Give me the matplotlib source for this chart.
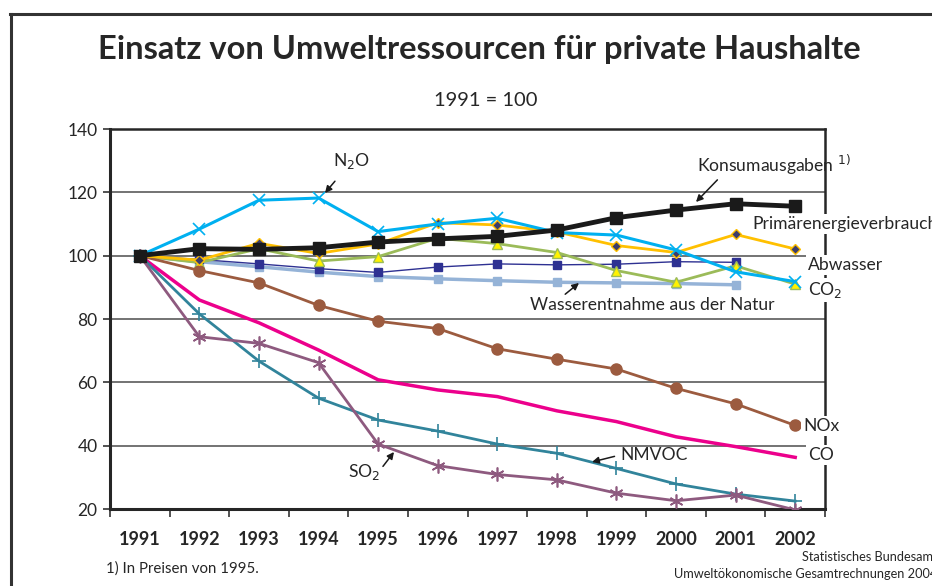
import matplotlib.pyplot as plt
from matplotlib.lines import Line2D

plt.rcParams['font.family'] = ['Lato', 'DejaVu Sans']

jahre = ['1991', '1992', '1993', '1994', '1995', '1996', '1997', '1998', '1999', '2000', '2001', '2002']

konsum = [100, 102.2, 102.0, 102.5, 104.3, 105.3, 106.1, 108.1, 112.0, 114.4, 116.4, 115.6]
primaer = [100, 98.6, 103.9, 100.7, 103.7, 110.4, 109.7, 107.5, 103.2, 101.0, 106.7, 102.1]
n2o = [100, 108.4, 117.5, 118.2, 107.6, 110.0, 111.8, 107.3, 106.5, 101.8, 94.9, 91.8]
abwasser = [100, 98.8, 97.4, 95.9, 94.7, 96.4, 97.4, 97.1, 97.3, 98.1, 97.9]
wasser = [100, 98.1, 96.5, 94.8, 93.4, 92.7, 92.1, 91.6, 91.4, 91.2, 90.8]
co2 = [100, 97.8, 102.2, 98.3, 99.7, 105.5, 103.8, 101.0, 95.3, 91.6, 96.8, 91.0]
nox = [100, 95.3, 91.4, 84.3, 79.3, 77.0, 70.6, 67.3, 64.2, 58.1, 53.2, 46.4]
co = [100, 86.0, 78.8, 70.2, 60.8, 57.6, 55.5, 51.0, 47.6, 42.8, 39.7, 36.3]
nmvoc = [100, 81.6, 66.7, 55.0, 48.1, 44.6, 40.5, 37.6, 32.8, 27.9, 24.7, 22.5]
so2 = [100, 74.4, 72.3, 66.2, 40.5, 33.7, 30.9, 29.2, 25.0, 22.6, 24.4, 19.7]

txt = '#262626'

fig = plt.figure(figsize=(9.32, 5.86), dpi=100)
ax = fig.add_axes([110/932, 1-509/586, 715/932, 380/586])

x = list(range(len(jahre)))

ax.plot(x[:len(wasser)], wasser, color='#95B3D7', lw=2.5, marker='s', ms=6, mfc='#95B3D7', mec='#95B3D7', zorder=3)
ax.plot(x[:len(abwasser)], abwasser, color='#2E3192', lw=1, marker='s', ms=6, mfc='#2E3192', mec='#2E3192', zorder=4)
ax.plot(x, co2, color='#9BBB59', lw=2, marker='^', ms=7, mfc='#FFF200', mec='#9BBB59', zorder=4)
ax.plot(x, primaer, color='#FFC000', lw=2, marker='D', ms=5, mfc='#3D3D6B', mec='#FFC000', zorder=5)
ax.plot(x, n2o, color='#00B0F0', lw=2.2, marker='x', ms=9, mew=1.2, zorder=5)
ax.plot(x, nox, color='#9C5B3F', lw=2, marker='o', ms=8, zorder=4)
ax.plot(x, co, color='#EC008C', lw=2.5, zorder=4)
ax.plot(x, nmvoc, color='#31849B', lw=2, marker='+', ms=10, mew=1.2, zorder=4)
ax.plot(x, so2, color='#8E5A7F', lw=2, marker=(6, 2, 0), ms=10, mew=1.2, zorder=4)
ax.plot(x, konsum, color='#1A1A1A', lw=3.5, marker='s', ms=9, zorder=6)

ax.set_xlim(-0.5, 11.5)
ax.set_ylim(20, 140)
ax.set_yticks([20, 40, 60, 80, 100, 120, 140])
ax.set_yticklabels(['20', '40', '60', '80', '100', '120', '140'])
for v in [40, 60, 80, 100, 120]:
    ax.axhline(v, color='#4D4D4D', lw=1.1, zorder=1)

ax.set_xticks([i - 0.5 for i in range(13)])
ax.set_xticklabels([])
ax.set_xticks(x, minor=True)
ax.set_xticklabels(jahre, minor=True, fontweight='bold', fontsize=13, color=txt)
ax.tick_params(axis='x', which='major', length=6, width=1.2, color='#333333', direction='out')
ax.tick_params(axis='x', which='minor', length=0, pad=16)
ax.tick_params(axis='y', length=5, width=1.2, color='#333333', labelsize=12.5, labelcolor=txt, pad=4)

for s in ['left', 'bottom']:
    ax.spines[s].set_linewidth(2.2)
    ax.spines[s].set_color('#262626')
for s in ['top', 'right']:
    ax.spines[s].set_linewidth(1.8)
    ax.spines[s].set_color('#262626')

fig.text(479/932, 1-50/586, 'Einsatz von Umweltressourcen für private Haushalte',
         ha='center', va='center', fontsize=23.5, fontweight='bold', color=txt)
fig.text(486/932, 1-101/586, '1991 = 100', ha='center', va='center', fontsize=14.5, color=txt)
fig.text(106/932, 1-569/586, '1) In Preisen von 1995.', ha='left', va='center', fontsize=10.8, color=txt)
fig.text(937/932, 1-557/586, 'Statistisches Bundesamt', ha='right', va='center', fontsize=9.2, color=txt)
fig.text(937/932, 1-574/586, 'Umweltökonomische Gesamtrechnungen 2004', ha='right', va='center', fontsize=9.2, color=txt)

fig.add_artist(Line2D([10/932, 1], [1-13.5/586, 1-13.5/586], color='#333333', lw=2.2))
fig.add_artist(Line2D([11/932, 11/932], [0, 1-13.5/586], color='#333333', lw=2.2))

white = dict(facecolor='white', edgecolor='none', pad=1.5)
lab = dict(fontsize=12.6, color=txt, clip_on=False, zorder=10)
arr = dict(arrowstyle='-|>', color='#1A1A1A', lw=1.1, mutation_scale=10)

def px(xp, yp):
    return (xp - 110) / 715 * 12 - 0.5, 140 - (yp - 129) / 380 * 120

ax.annotate('N$_2$O', xy=px(325, 193), xytext=px(352, 161), ha='center', va='center',
            arrowprops=dict(arr, shrinkA=7, shrinkB=0), **lab)
ax.annotate('Konsumausgaben $^{1)}$', xy=px(696, 202), xytext=px(697, 165), ha='left', va='center',
            arrowprops=dict(arr, shrinkA=0, shrinkB=0, relpos=(0.15, 0)), **lab)
ax.annotate('Wasserentnahme aus der Natur', xy=px(579, 283), xytext=px(530, 305), ha='left', va='center',
            arrowprops=dict(arr, shrinkA=0, shrinkB=0, relpos=(0.13, 1)), **lab)
ax.annotate('NMVOC', xy=px(592, 462), xytext=px(620, 455), ha='left', va='center',
            arrowprops=dict(arr, shrinkA=2, shrinkB=0, relpos=(0, 0.5)), **lab)
ax.annotate('SO$_2$', xy=px(394, 452), xytext=px(348, 472), ha='left', va='center',
            arrowprops=dict(arr, shrinkA=0, shrinkB=0, relpos=(1, 0.6)), **lab)

ax.text(*px(752, 224), 'Primärenergieverbrauch', ha='left', va='center', bbox=white, **lab)
ax.text(*px(808, 265), 'Abwasser', ha='left', va='center', bbox=white, **lab)
ax.text(*px(808, 290), 'CO$_2$', ha='left', va='center', bbox=white, **lab)
ax.text(*px(803, 426), 'NOx', ha='left', va='center', bbox=white, **lab)
ax.text(*px(808, 455), 'CO', ha='left', va='center', bbox=white, **lab)

fig.savefig('out.png', dpi=100)
